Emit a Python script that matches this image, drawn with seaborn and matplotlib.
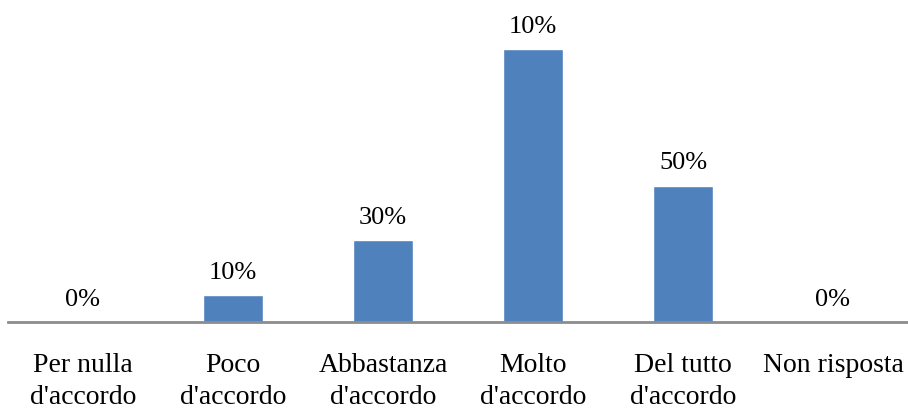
import matplotlib
matplotlib.use("Agg")
import matplotlib.pyplot as plt
import seaborn as sns
import pandas as pd

categories = ["Per nulla\nd'accordo", "Poco\nd'accordo", "Abbastanza\nd'accordo",
              "Molto\nd'accordo", "Del tutto\nd'accordo", "Non risposta"]
values = [0, 10, 30, 100, 50, 0]
value_labels = ["0%", "10%", "30%", "10%", "50%", "0%"]

sns.set_theme(style="white")
plt.rcParams["font.family"] = ["Liberation Serif", "DejaVu Serif"]
plt.rcParams["text.color"] = "black"

df = pd.DataFrame({"cat": categories, "val": values})

fig = plt.figure(figsize=(9.08, 4.12), dpi=100)
ax = fig.add_axes([8 / 908, 90 / 412, 900 / 908, 273 / 412])

sns.barplot(data=df, x="cat", y="val", color="#4F81BD", width=0.4,
            saturation=1, ax=ax)

ax.set_ylim(0, 100)
ax.set_xlim(-0.5, len(categories) - 0.5)
ax.set_xlabel("")
ax.set_ylabel("")
ax.set_yticks([])
for s in ["top", "left", "right"]:
    ax.spines[s].set_visible(False)
ax.spines["bottom"].set_color("#8c8c8c")
ax.spines["bottom"].set_linewidth(2)
ax.tick_params(axis="x", length=0, pad=22, labelsize=20, labelcolor="black")
for lbl in ax.get_xticklabels():
    lbl.set_linespacing(1.4)

for i, (v, t) in enumerate(zip(values, value_labels)):
    ax.annotate(t, (i, v), xytext=(0, 8), textcoords="offset points",
                ha="center", va="bottom", fontsize=19, color="black",
                clip_on=False, annotation_clip=False)

fig.savefig("out.png", dpi=100)
